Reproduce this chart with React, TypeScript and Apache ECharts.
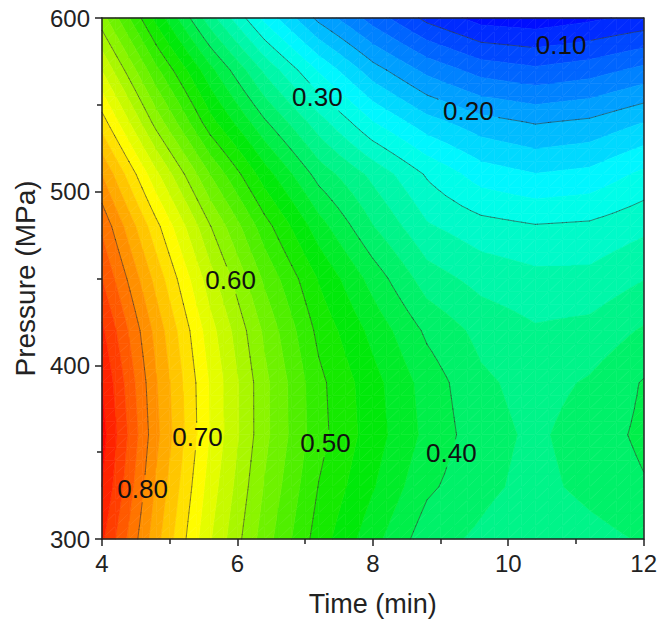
import React, { useEffect, useRef } from "react";
import * as echarts from "echarts";

// Grid of the response surface (Time × Pressure)
const timeMin = [4.0, 4.8, 5.6, 6.4, 7.2, 8.0, 8.8, 9.6, 10.4, 11.2, 12.0];
const pressureMPa = [300, 330, 360, 390, 420, 450, 480, 510, 540, 570, 600];
// one row per pressure (ascending), one column per time (ascending)
const response300 = [0.88, 0.759, 0.652, 0.562, 0.488, 0.434, 0.385, 0.37, 0.35, 0.365, 0.378];
const response330 = [0.9, 0.771, 0.663, 0.573, 0.499, 0.452, 0.405, 0.382, 0.366, 0.383, 0.398];
const response360 = [0.91, 0.782, 0.673, 0.582, 0.509, 0.462, 0.418, 0.385, 0.37, 0.388, 0.405];
const response390 = [0.9, 0.777, 0.672, 0.582, 0.507, 0.459, 0.414, 0.38, 0.365, 0.378, 0.402];
const response420 = [0.88, 0.766, 0.66, 0.57, 0.493, 0.442, 0.395, 0.367, 0.353, 0.358, 0.378];
const response450 = [0.85, 0.741, 0.635, 0.545, 0.473, 0.415, 0.362, 0.341, 0.332, 0.332, 0.349];
const response480 = [0.82, 0.708, 0.601, 0.511, 0.436, 0.376, 0.328, 0.31, 0.302, 0.305, 0.319];
const response510 = [0.775, 0.656, 0.549, 0.462, 0.39, 0.343, 0.297, 0.263, 0.251, 0.257, 0.281];
const response540 = [0.712, 0.59, 0.484, 0.404, 0.336, 0.276, 0.235, 0.21, 0.198, 0.205, 0.225];
const response570 = [0.649, 0.531, 0.432, 0.345, 0.272, 0.211, 0.168, 0.14, 0.13, 0.139, 0.157];
const response600 = [0.585, 0.467, 0.36, 0.268, 0.193, 0.139, 0.093, 0.065, 0.06, 0.07, 0.082];
const responseRows = [
  response300, response330, response360, response390, response420, response450,
  response480, response510, response540, response570, response600,
];

// contour line levels and their label anchors [time, pressure, level]
const contourLevels = [0.1, 0.2, 0.3, 0.4, 0.5, 0.6, 0.7, 0.8];
const labelAnchors = [
  [10.78, 584.5, 0.1],
  [9.41, 546.5, 0.2],
  [7.18, 554.5, 0.3],
  [9.16, 349.5, 0.4],
  [7.3, 355, 0.5],
  [5.9, 449, 0.6],
  [5.41, 359, 0.7],
  [4.6, 329, 0.8],
];

const FILL_STEP = 0.025;
const SUB = 4;
const FONT = "'Liberation Sans', Arial, Helvetica, sans-serif";
const LABEL_FONT_SIZE = 26;
const LABEL_HALF_W = 30;
const LABEL_HALF_H = 14;

const colorStops: [number, number[]][] = [
  [0.05, [0, 0, 255]],
  [0.27, [0, 255, 255]],
  [0.47, [0, 232, 0]],
  [0.685, [255, 255, 0]],
  [0.92, [255, 0, 0]],
];

function colorAt(v: number): string {
  if (v <= colorStops[0][0]) {
    const c = colorStops[0][1];
    return `rgb(${c[0]},${c[1]},${c[2]})`;
  }
  for (let i = 1; i < colorStops.length; i++) {
    if (v <= colorStops[i][0]) {
      const [a, ca] = colorStops[i - 1];
      const [b, cb] = colorStops[i];
      const t = (v - a) / (b - a);
      const r = Math.round(ca[0] + t * (cb[0] - ca[0]));
      const g = Math.round(ca[1] + t * (cb[1] - ca[1]));
      const bl = Math.round(ca[2] + t * (cb[2] - ca[2]));
      return `rgb(${r},${g},${bl})`;
    }
  }
  const c = colorStops[colorStops.length - 1][1];
  return `rgb(${c[0]},${c[1]},${c[2]})`;
}

type V = { x: number; y: number; z: number };

function clipPoly(poly: V[], lvl: number, keepAbove: boolean): V[] {
  const out: V[] = [];
  const n = poly.length;
  for (let i = 0; i < n; i++) {
    const a = poly[i];
    const b = poly[(i + 1) % n];
    const ina = keepAbove ? a.z >= lvl : a.z <= lvl;
    const inb = keepAbove ? b.z >= lvl : b.z <= lvl;
    if (ina) out.push(a);
    if (ina !== inb) {
      const t = (lvl - a.z) / (b.z - a.z);
      out.push({ x: a.x + t * (b.x - a.x), y: a.y + t * (b.y - a.y), z: lvl });
    }
  }
  return out;
}

// build cells from the grid arrays
const cells: number[][] = [];
for (let j = 0; j < pressureMPa.length - 1; j++) {
  for (let i = 0; i < timeMin.length - 1; i++) {
    cells.push([
      timeMin[i], timeMin[i + 1], pressureMPa[j], pressureMPa[j + 1],
      responseRows[j][i], responseRows[j][i + 1], responseRows[j + 1][i], responseRows[j + 1][i + 1],
    ]);
  }
}

function cellTriangles(api: any): V[][] {
  const x0 = api.value(0), x1 = api.value(1), y0 = api.value(2), y1 = api.value(3);
  const z00 = api.value(4), z10 = api.value(5), z01 = api.value(6), z11 = api.value(7);
  const p00 = api.coord([x0, y0]);
  const p11 = api.coord([x1, y1]);
  const pts: V[][] = [];
  for (let s = 0; s <= SUB; s++) {
    const row: V[] = [];
    const v = s / SUB;
    for (let r = 0; r <= SUB; r++) {
      const u = r / SUB;
      row.push({
        x: p00[0] + u * (p11[0] - p00[0]),
        y: p00[1] + v * (p11[1] - p00[1]),
        z: z00 * (1 - u) * (1 - v) + z10 * u * (1 - v) + z01 * (1 - u) * v + z11 * u * v,
      });
    }
    pts.push(row);
  }
  const tris: V[][] = [];
  for (let s = 0; s < SUB; s++) {
    for (let r = 0; r < SUB; r++) {
      const a = pts[s][r], b = pts[s][r + 1], c = pts[s + 1][r + 1], d = pts[s + 1][r];
      tris.push([a, b, c], [a, c, d]);
    }
  }
  return tris;
}

function renderFill(params: any, api: any) {
  const tris = cellTriangles(api);
  const children: any[] = [];
  for (const tri of tris) {
    const zs = tri.map((p) => p.z);
    const zmin = Math.min(...zs);
    const zmax = Math.max(...zs);
    const k0 = Math.floor(zmin / FILL_STEP);
    const k1 = Math.floor(zmax / FILL_STEP);
    for (let k = k0; k <= k1; k++) {
      const lo = k * FILL_STEP;
      const hi = lo + FILL_STEP;
      let poly = clipPoly(tri, lo, true);
      if (poly.length < 3) continue;
      poly = clipPoly(poly, hi, false);
      if (poly.length < 3) continue;
      const col = colorAt(lo + FILL_STEP / 2);
      children.push({
        type: "polygon",
        silent: true,
        shape: { points: poly.map((p) => [p.x, p.y]) },
        style: { fill: col, stroke: col, lineWidth: 0.6 },
      });
    }
  }
  return { type: "group", children };
}

function labelRects(api: any) {
  return labelAnchors.map((l) => {
    const p = api.coord([l[0], l[1]]);
    return { x0: p[0] - LABEL_HALF_W, x1: p[0] + LABEL_HALF_W, y0: p[1] - LABEL_HALF_H, y1: p[1] + LABEL_HALF_H };
  });
}

function segmentPieces(ax: number, ay: number, bx: number, by: number, rects: any[]): number[][] {
  let pieces: number[][] = [[ax, ay, bx, by]];
  for (const r of rects) {
    const next: number[][] = [];
    for (const s of pieces) {
      const [x1, y1, x2, y2] = s;
      const dx = x2 - x1, dy = y2 - y1;
      const p = [-dx, dx, -dy, dy];
      const q = [x1 - r.x0, r.x1 - x1, y1 - r.y0, r.y1 - y1];
      let t0 = 0, t1 = 1, hit = true;
      for (let i = 0; i < 4; i++) {
        if (p[i] === 0) {
          if (q[i] < 0) { hit = false; break; }
        } else {
          const t = q[i] / p[i];
          if (p[i] < 0) { if (t > t0) t0 = t; } else { if (t < t1) t1 = t; }
        }
      }
      if (!hit || t0 >= t1) { next.push(s); continue; }
      if (t0 > 0) next.push([x1, y1, x1 + t0 * dx, y1 + t0 * dy]);
      if (t1 < 1) next.push([x1 + t1 * dx, y1 + t1 * dy, x2, y2]);
    }
    pieces = next;
  }
  return pieces;
}

function renderLines(params: any, api: any) {
  const tris = cellTriangles(api);
  const rects = labelRects(api);
  const children: any[] = [];
  for (const tri of tris) {
    for (const L of contourLevels) {
      const pts: number[][] = [];
      for (let e = 0; e < 3; e++) {
        const a = tri[e];
        const b = tri[(e + 1) % 3];
        const ua = a.z >= L, ub = b.z >= L;
        if (ua !== ub) {
          const t = (L - a.z) / (b.z - a.z);
          pts.push([a.x + t * (b.x - a.x), a.y + t * (b.y - a.y)]);
        }
      }
      if (pts.length === 2) {
        const pieces = segmentPieces(pts[0][0], pts[0][1], pts[1][0], pts[1][1], rects);
        for (const s of pieces) {
          children.push({
            type: "line",
            silent: true,
            shape: { x1: s[0], y1: s[1], x2: s[2], y2: s[3] },
            style: { stroke: "rgba(50,50,50,0.62)", lineWidth: 0.9, lineCap: "round" },
          });
        }
      }
    }
  }
  return { type: "group", children };
}

function renderLabel(params: any, api: any) {
  const p = api.coord([api.value(0), api.value(1)]);
  return {
    type: "text",
    silent: true,
    x: p[0],
    y: p[1],
    style: {
      text: Number(api.value(2)).toFixed(2),
      fontSize: LABEL_FONT_SIZE,
      fontFamily: FONT,
      fill: "#111",
      align: "center",
      verticalAlign: "middle",
    },
  };
}

const axisColor = "#222";

export default function App() {
  const ref = useRef<HTMLDivElement>(null);
  useEffect(() => {
    if (!ref.current) return;
    const chart = echarts.init(ref.current, undefined, { renderer: "svg" });
    const lineStyle = { color: axisColor, width: 1.5 };
    const option: any = {
      animation: false,
      backgroundColor: "#ffffff",
      textStyle: { fontFamily: FONT },
      grid: { left: 102, right: 12, top: 18, bottom: 83 },
      xAxis: [
        {
          type: "value",
          min: 4,
          max: 12,
          interval: 2,
          position: "bottom",
          z: 10,
          name: "Time (min)",
          nameLocation: "middle",
          nameGap: 51,
          nameTextStyle: { fontSize: 27, color: axisColor, fontFamily: FONT },
          axisLine: { show: true, onZero: false, lineStyle },
          axisTick: { show: true, inside: false, length: 7, lineStyle },
          minorTick: { show: true, splitNumber: 2, length: 5, lineStyle },
          axisLabel: { fontSize: 24, color: axisColor, margin: 12, fontFamily: FONT },
          splitLine: { show: false },
          minorSplitLine: { show: false },
        },
        {
          type: "value",
          min: 4,
          max: 12,
          position: "top",
          z: 10,
          axisLine: { show: true, onZero: false, lineStyle },
          axisTick: { show: false },
          axisLabel: { show: false },
          splitLine: { show: false },
        },
      ],
      yAxis: [
        {
          type: "value",
          min: 300,
          max: 600,
          interval: 100,
          position: "left",
          z: 10,
          name: "Pressure (MPa)",
          nameLocation: "middle",
          nameRotate: 90,
          nameGap: 59,
          nameTextStyle: { fontSize: 28, color: axisColor, fontFamily: FONT },
          axisLine: { show: true, onZero: false, lineStyle },
          axisTick: { show: true, inside: false, length: 7, lineStyle },
          minorTick: { show: true, splitNumber: 2, length: 5, lineStyle },
          axisLabel: { fontSize: 24, color: axisColor, margin: 12, fontFamily: FONT },
          splitLine: { show: false },
          minorSplitLine: { show: false },
        },
        {
          type: "value",
          min: 300,
          max: 600,
          position: "right",
          z: 10,
          axisLine: { show: true, onZero: false, lineStyle },
          axisTick: { show: false },
          axisLabel: { show: false },
          splitLine: { show: false },
        },
      ],
      series: [
        {
          type: "custom",
          name: "fill",
          coordinateSystem: "cartesian2d",
          xAxisIndex: 0,
          yAxisIndex: 0,
          renderItem: renderFill,
          encode: { x: [0, 1], y: [2, 3] },
          data: cells,
          z: 1,
          silent: true,
        },
        {
          type: "custom",
          name: "contours",
          coordinateSystem: "cartesian2d",
          xAxisIndex: 0,
          yAxisIndex: 0,
          renderItem: renderLines,
          encode: { x: [0, 1], y: [2, 3] },
          data: cells,
          z: 3,
          silent: true,
        },
        {
          type: "custom",
          name: "labels",
          coordinateSystem: "cartesian2d",
          xAxisIndex: 0,
          yAxisIndex: 0,
          renderItem: renderLabel,
          encode: { x: 0, y: 1 },
          data: labelAnchors,
          z: 4,
          silent: true,
        },
      ],
    };
    chart.setOption(option);
    return () => chart.dispose();
  }, []);
  return (
    <div
      ref={ref}
      style={{ position: "fixed", left: 0, top: 0, width: 660, height: 622, background: "#fff" }}
    />
  );
}
